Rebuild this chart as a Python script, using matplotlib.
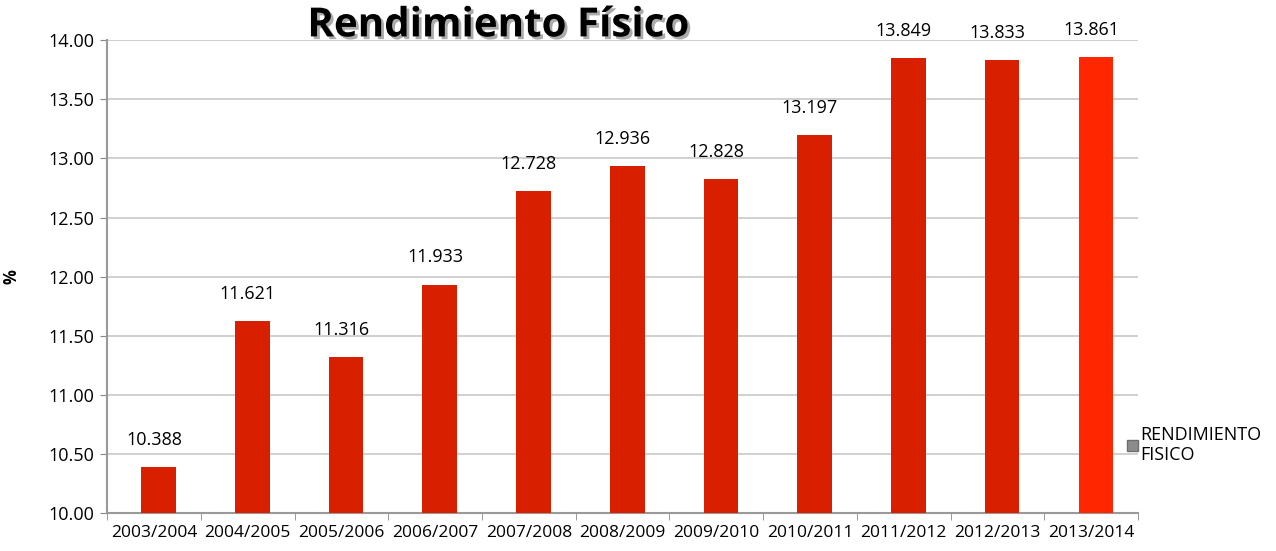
import matplotlib
matplotlib.use("Agg")
import matplotlib.pyplot as plt
import matplotlib.patheffects as pe
from matplotlib.patches import Patch
import numpy as np

plt.rcParams['font.family'] = ['Open Sans', 'DejaVu Sans']

# data
seasons = ['2003/2004', '2004/2005', '2005/2006', '2006/2007', '2007/2008', '2008/2009',
           '2009/2010', '2010/2011', '2011/2012', '2012/2013', '2013/2014']
rendimiento = [10.388, 11.621, 11.316, 11.933, 12.728, 12.936,
               12.828, 13.197, 13.849, 13.833, 13.861]
y_ticks = [10.0, 10.5, 11.0, 11.5, 12.0, 12.5, 13.0, 13.5, 14.0]

bar_colors = ['#D82000'] * (len(seasons) - 1) + ['#FF2600']

fig = plt.figure(figsize=(12.76, 5.51), dpi=100)
ax = fig.add_axes([0.0839, 0.069, 0.808, 0.858])

x = np.arange(len(seasons))
bars = ax.bar(x + 0.05, rendimiento, width=0.37, color=bar_colors, zorder=3)

for xi, v in zip(x, rendimiento):
    ax.annotate(f"{v:.3f}", (xi, v), xytext=(0, 13), textcoords='offset points',
                ha='center', va='bottom', fontsize=13, color='black')

ax.set_xlim(-0.5, len(seasons) - 0.5)
ax.set_ylim(10, 14)
ax.set_yticks(y_ticks)
ax.set_yticklabels([f"{t:.2f}" for t in y_ticks], fontsize=13)
ax.set_xticks(x)
ax.set_xticklabels(seasons, fontsize=12.5)
ax.set_xticks(np.arange(-0.5, len(seasons)), minor=True)
ax.tick_params(axis='x', which='major', length=0, pad=9)
ax.tick_params(axis='x', which='minor', length=5, color='#888888')
ax.tick_params(axis='y', length=5, color='#888888', pad=4)

ax.grid(axis='y', color='#C8C8C8', linewidth=1.2, zorder=0)
for s in ['top', 'right']:
    ax.spines[s].set_visible(False)
for s in ['left', 'bottom']:
    ax.spines[s].set_color('#999999')
    ax.spines[s].set_linewidth(1.5)

ax.set_ylabel('%', fontsize=12, fontweight='bold', labelpad=20)

title = fig.text(0.39, 0.953, 'Rendimiento Físico', ha='center', va='center',
                 fontsize=29, fontweight='bold', color='black')
title.set_path_effects([pe.SimplePatchShadow(offset=(2, -2), shadow_rgbFace='#888888', alpha=0.7),
                        pe.Normal()])

handle = Patch(facecolor='#8C8C8C', edgecolor='#6E6E6E')
ax.legend([handle], ['RENDIMIENTO\nFISICO'], loc='upper left', bbox_to_anchor=(0.982, 0.2),
          frameon=False, fontsize=13, handlelength=0.6, handleheight=0.6,
          handletextpad=0.15, borderaxespad=0, labelspacing=0.1)

fig.savefig('out.png', dpi=100)
